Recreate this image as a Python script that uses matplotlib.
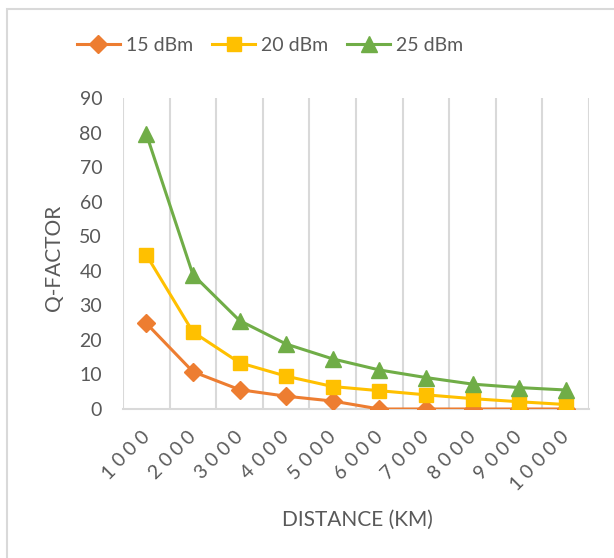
import matplotlib.pyplot as plt
from matplotlib.patches import Rectangle

plt.rcParams['font.family'] = ['Lato', 'DejaVu Sans']

# Q-factor vs. distance for three launch powers
distance = ['1000', '2000', '3000', '4000', '5000', '6000', '7000', '8000', '9000', '10000']
q_15dbm = [24.8, 10.8, 5.6, 3.7, 2.3, 0, 0, 0, 0, 0]
q_20dbm = [44.6, 22.3, 13.4, 9.5, 6.5, 5.3, 4.1, 3.0, 2.1, 1.3]
q_25dbm = [79.6, 38.9, 25.6, 18.8, 14.5, 11.3, 9.1, 7.2, 6.2, 5.5]

text_color = '#595959'
grid_color = '#D9D9D9'

fig = plt.figure(figsize=(6.14, 5.58), dpi=100)
ax = fig.add_axes([123 / 614, 1 - 409 / 558, 466 / 614, 311 / 558])

# chart frame
fig.patches.append(Rectangle((7 / 614, -0.1), 1.2, 1 - 9 / 558 + 0.1, transform=fig.transFigure,
                             fill=False, edgecolor=grid_color, linewidth=1.5))

x = range(len(distance))
ax.plot(x, q_15dbm, color='#ED7D31', marker='D', markersize=9, linewidth=2.2, label='15 dBm', zorder=3)
ax.plot(x, q_20dbm, color='#FFC000', marker='s', markersize=10, linewidth=2.2, label='20 dBm', zorder=3)
ax.plot(x, q_25dbm, color='#70AD47', marker='^', markersize=11, linewidth=2.2, label='25 dBm', zorder=3)

ax.set_xlim(-0.5, len(distance) - 0.5)
ax.set_ylim(0, 90)

# vertical gridlines between categories
for b in range(len(distance) + 1):
    ax.axvline(b - 0.5, color=grid_color, linewidth=1.5, zorder=1)

for s in ['top', 'right', 'left']:
    ax.spines[s].set_visible(False)
ax.spines['bottom'].set_color(grid_color)
ax.spines['bottom'].set_linewidth(1.5)
ax.spines['bottom'].set_zorder(1)

ax.set_yticks(range(0, 91, 10))
ax.tick_params(axis='y', length=0, pad=15, labelsize=14, labelcolor=text_color)
ax.set_xticks(list(x))
ax.set_xticklabels([])
ax.tick_params(axis='x', length=0)

# category labels at 45 degrees, drawn one character at a time for wide letter spacing
step = 11.2 * 0.72  # points per character along each axis
for i, lab in enumerate(distance):
    n = len(lab)
    for k, ch in enumerate(lab):
        back = n - 1 - k
        ax.annotate(ch, xy=(i, 0), xycoords='data',
                    xytext=(-3 - back * step, -21 - back * step), textcoords='offset points',
                    rotation=45, rotation_mode='anchor', ha='center', va='center',
                    fontsize=14, color=text_color, annotation_clip=False)

fig.text(54 / 614, 1 - 258 / 558, 'Q-FACTOR', rotation=90, ha='center', va='center',
         fontsize=15, color=text_color)
fig.text(357 / 614, 1 - 520 / 558, 'DISTANCE (KM)', ha='center', va='center',
         fontsize=15, color=text_color)

leg = fig.legend(loc='center', bbox_to_anchor=(270 / 614, 1 - 45 / 558), ncol=3, frameon=False,
                 fontsize=14, handlelength=2.2, handletextpad=0.3, columnspacing=1.0)
for t in leg.get_texts():
    t.set_color(text_color)

fig.savefig('out.png', dpi=100)
